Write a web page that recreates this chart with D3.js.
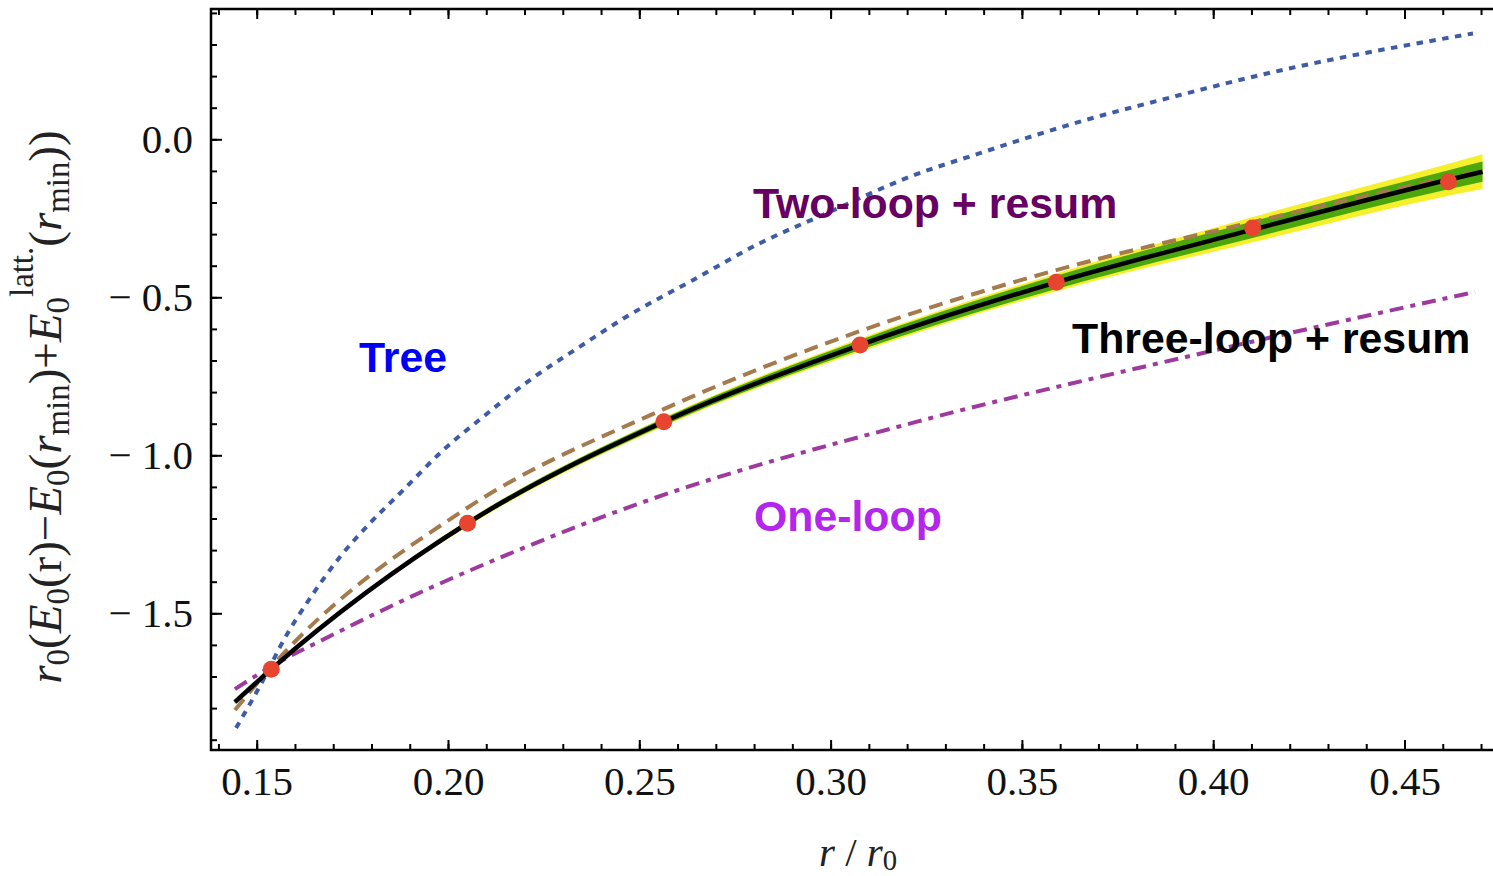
<!DOCTYPE html>
<html>
<head>
<meta charset="utf-8">
<script src="https://cdn.jsdelivr.net/npm/d3@7"></script>
<style>
  body { margin: 0; background: #fff; }
  svg { display: block; }
</style>
</head>
<body>
<div id="chart"></div>
<script>
// --------------- Data ---------------
// lattice points (red dots)
const latticeR = [0.1538, 0.2051, 0.2564, 0.3077, 0.3590, 0.4103, 0.4615];
const latticeE = [-1.677, -1.215, -0.894, -0.651, -0.4525, -0.281, -0.134];

// three-loop + resum (black) with its error bands
const threeLoopR = [0.1443, 0.1538, 0.2051, 0.2564, 0.3077, 0.3590, 0.4103, 0.4615, 0.4704];
const threeLoopE = [-1.781, -1.677, -1.215, -0.894, -0.651, -0.4525, -0.286, -0.128, -0.1025];
const greenHalf = [0.005, 0.003, 0.008, 0.011, 0.016, 0.021, 0.026, 0.030, 0.032];
const yellowHalf = [0.005, 0.003, 0.010, 0.014, 0.021, 0.028, 0.040, 0.051, 0.055];

// two-loop + resum (brown dashed), same abscissae
const twoLoopE = [-1.806, -1.670, -1.166, -0.854, -0.607, -0.414, -0.262, -0.122, -0.100];

// one-loop (purple dash-dot)
const oneLoopR = [0.1443, 0.1537, 0.1692, 0.1953, 0.2128, 0.2345, 0.2510, 0.3231, 0.3928, 0.4190, 0.4373, 0.4684];
const oneLoopE = [-1.740, -1.669, -1.572, -1.420, -1.328, -1.222, -1.148, -0.892, -0.689, -0.616, -0.566, -0.483];

// tree (blue dotted)
const treeR = [0.1446, 0.1526, 0.1561, 0.1648, 0.1718, 0.1796, 0.1883, 0.1988, 0.2092, 0.2214,
  0.2345, 0.2467, 0.2641, 0.2815, 0.2990, 0.3208, 0.3390, 0.3652, 0.3913, 0.4122, 0.4679];
const treeE = [-1.863, -1.690, -1.606, -1.437, -1.321, -1.215, -1.110, -0.983, -0.878, -0.762,
  -0.656, -0.561, -0.445, -0.329, -0.234, -0.118, -0.044, 0.056, 0.140, 0.203, 0.335];

const xMajorTicks = [0.15, 0.20, 0.25, 0.30, 0.35, 0.40, 0.45];
const yMajorTicks = [0.0, -0.5, -1.0, -1.5];

const curveLabels = [
  { text: "Tree", color: "#0000f5", x: 359, y: 372 },
  { text: "Two-loop + resum", color: "#660062", x: 753, y: 218 },
  { text: "Three-loop + resum", color: "#000000", x: 1072, y: 353 },
  { text: "One-loop", color: "#b426ec", x: 754, y: 531 },
];

// --------------- Constants ---------------
const WIDTH = 1493;
const HEIGHT = 876;
const FRAME = { left: 211, top: 9, right: 1497, bottom: 750 };
const SERIF = "'Liberation Serif', 'Times New Roman', serif";
const SANS = "'Liberation Sans', Arial, sans-serif";

const COLORS = {
  tree: "#3e5ba6",
  twoLoop: "#a57a4c",
  oneLoop: "#9e3a9e",
  green: "#4ca70c",
  yellow: "#f6f02c",
  lattice: "#e84530",
};

// --------------- Scales ---------------
const x = d3.scaleLinear().domain([0.15, 0.45]).range([256.7, 1404.5]);
const y = d3.scaleLinear().domain([-1.5, 0.0]).range([613.3, 139.3]);

const svg = d3
  .select("#chart")
  .append("svg")
  .attr("width", WIDTH)
  .attr("height", HEIGHT);

svg.append("defs")
  .append("clipPath")
  .attr("id", "plot-clip")
  .append("rect")
  .attr("x", FRAME.left)
  .attr("y", FRAME.top)
  .attr("width", FRAME.right - FRAME.left)
  .attr("height", FRAME.bottom - FRAME.top);

const plot = svg.append("g").attr("clip-path", "url(#plot-clip)");

// --------------- Bands ---------------
const bandRows = threeLoopR.map((r, i) => ({
  r,
  e: threeLoopE[i],
  g: greenHalf[i],
  yl: yellowHalf[i],
}));

const yellowArea = d3.area()
  .x((d) => x(d.r))
  .y0((d) => y(d.e - d.yl))
  .y1((d) => y(d.e + d.yl))
  .curve(d3.curveMonotoneX);

const greenArea = d3.area()
  .x((d) => x(d.r))
  .y0((d) => y(d.e - d.g))
  .y1((d) => y(d.e + d.g))
  .curve(d3.curveMonotoneX);

plot.append("path").attr("d", yellowArea(bandRows)).attr("fill", COLORS.yellow);
plot.append("path").attr("d", greenArea(bandRows)).attr("fill", COLORS.green);

// --------------- Curves ---------------
const line = d3.line()
  .x((d) => x(d[0]))
  .y((d) => y(d[1]))
  .curve(d3.curveMonotoneX);

function drawCurve(rs, es, color, width, dash) {
  plot.append("path")
    .attr("d", line(d3.zip(rs, es)))
    .attr("fill", "none")
    .attr("stroke", color)
    .attr("stroke-width", width)
    .attr("stroke-dasharray", dash);
}

drawCurve(treeR, treeE, COLORS.tree, 4, "6.5,6.5");
drawCurve(oneLoopR, oneLoopE, COLORS.oneLoop, 4, "14,7,5,7");
drawCurve(threeLoopR, twoLoopE, COLORS.twoLoop, 4, "14,8");
drawCurve(threeLoopR, threeLoopE, "#000", 4.5, null);

plot.append("g")
  .selectAll("circle")
  .data(d3.zip(latticeR, latticeE))
  .enter()
  .append("circle")
  .attr("cx", (d) => x(d[0]))
  .attr("cy", (d) => y(d[1]))
  .attr("r", 8.5)
  .attr("fill", COLORS.lattice);

// --------------- Frame & axes ---------------
svg.append("rect")
  .attr("x", FRAME.left)
  .attr("y", FRAME.top)
  .attr("width", FRAME.right - FRAME.left)
  .attr("height", FRAME.bottom - FRAME.top)
  .attr("fill", "none")
  .attr("stroke", "#000")
  .attr("stroke-width", 2.5);

const xMinor = d3.range(14, 48).map((v) => v / 100);
const yMinor = d3.range(-19, 5).map((v) => v / 10);

function styleAxis(g) {
  g.select(".domain").remove();
  g.selectAll(".tick line").attr("stroke", "#000").attr("stroke-width", 2);
  g.selectAll("text")
    .attr("fill", "#111")
    .style("font-family", SERIF)
    .style("font-size", "41px");
}

const fmtY = (d) => (d === 0 ? "0.0" : "\u2212 " + Math.abs(d).toFixed(1));

// bottom
svg.append("g")
  .attr("transform", `translate(0,${FRAME.bottom})`)
  .call(d3.axisBottom(x).tickValues(xMinor).tickSizeInner(-6).tickSizeOuter(0).tickFormat(""))
  .call(styleAxis);
svg.append("g")
  .attr("transform", `translate(0,${FRAME.bottom})`)
  .call(d3.axisBottom(x).tickValues(xMajorTicks).tickSizeInner(-10).tickSizeOuter(0)
    .tickPadding(16).tickFormat(d3.format(".2f")))
  .call(styleAxis);

// top
svg.append("g")
  .attr("transform", `translate(0,${FRAME.top})`)
  .call(d3.axisTop(x).tickValues(xMinor).tickSizeInner(-6).tickSizeOuter(0).tickFormat(""))
  .call(styleAxis);
svg.append("g")
  .attr("transform", `translate(0,${FRAME.top})`)
  .call(d3.axisTop(x).tickValues(xMajorTicks).tickSizeInner(-10).tickSizeOuter(0).tickFormat(""))
  .call(styleAxis);

// left
svg.append("g")
  .attr("transform", `translate(${FRAME.left},0)`)
  .call(d3.axisLeft(y).tickValues(yMinor).tickSizeInner(-6).tickSizeOuter(0).tickFormat(""))
  .call(styleAxis);
svg.append("g")
  .attr("transform", `translate(${FRAME.left},0)`)
  .call(d3.axisLeft(y).tickValues(yMajorTicks).tickSizeInner(-11).tickSizeOuter(0)
    .tickPadding(18).tickFormat(fmtY))
  .call(styleAxis);

// --------------- Curve labels ---------------
svg.append("g")
  .selectAll("text")
  .data(curveLabels)
  .enter()
  .append("text")
  .attr("x", (d) => d.x)
  .attr("y", (d) => d.y)
  .attr("fill", (d) => d.color)
  .style("font-family", SANS)
  .style("font-weight", "bold")
  .style("font-size", "42.8px")
  .text((d) => d.text);

// --------------- Axis titles ---------------
function richText(sel, parts, size, subShift) {
  let shift = 0;
  parts.forEach((p) => {
    const target = p.sub ? size * subShift : p.sup ? -size * 0.6 : 0;
    sel.append("tspan")
      .attr("dy", target - shift)
      .style("font-size", (p.sub || p.sup ? size * 0.7 : size) + "px")
      .style("font-style", p.it ? "italic" : "normal")
      .text(p.t);
    shift = target;
  });
}

const xTitle = svg.append("text")
  .attr("x", 858)
  .attr("y", 866)
  .attr("text-anchor", "middle")
  .attr("fill", "#222")
  .style("font-family", SERIF);
richText(xTitle, [
  { t: "r", it: true }, { t: " / " }, { t: "r", it: true }, { t: "0", sub: true },
], 41, 0.1);

const yTitle = svg.append("text")
  .attr("transform", "translate(61,407) rotate(-90)")
  .attr("text-anchor", "middle")
  .attr("fill", "#222")
  .style("font-family", SERIF);
richText(yTitle, [
  { t: "r", it: true }, { t: "0", sub: true }, { t: "(" },
  { t: "E", it: true }, { t: "0", sub: true }, { t: "(r)\u2212" },
  { t: "E", it: true }, { t: "0", sub: true }, { t: "(" },
  { t: "r", it: true }, { t: "min", sub: true }, { t: ")+" },
  { t: "E", it: true }, { t: "0", sub: true }, { t: "latt.", sup: true }, { t: "(" },
  { t: "r", it: true }, { t: "min", sub: true }, { t: "))" },
], 47, 0.18);
</script>
</body>
</html>
